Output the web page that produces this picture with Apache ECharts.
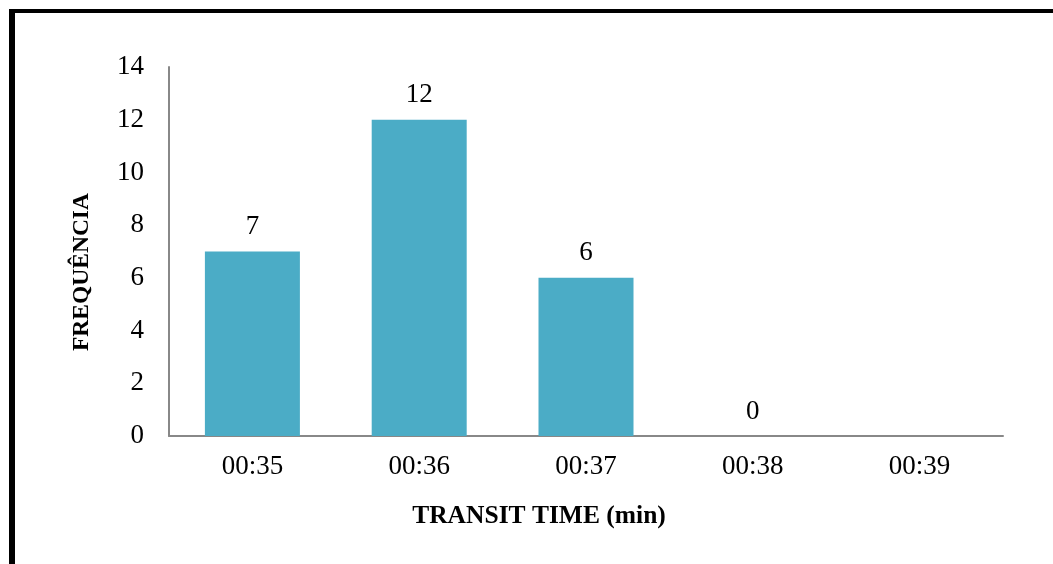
<!DOCTYPE html>
<html><head><meta charset="utf-8">
<script src="https://cdn.jsdelivr.net/npm/echarts@6/dist/echarts.min.js"></script>
<style>html,body{margin:0;padding:0;background:#fff}#c{width:1053px;height:564px}</style>
</head><body><div id="c"></div>
<script>
const categories = ["00:35","00:36","00:37","00:38","00:39"];
const frequencies = [7,12,6,0,null];
const yTicks = {min:0, max:14, interval:2};
const xTitle = 'TRANSIT TIME (min)';
const yTitle = 'FREQUÊNCIA';

const chart = echarts.init(document.getElementById('c'));
const font = "'Liberation Serif','DejaVu Serif',serif";
chart.setOption({
  animation:false,
  backgroundColor:'#fff',
  graphic:[
    {type:'rect', shape:{x:9,y:9,width:6,height:560}, style:{fill:'#000'}},
    {type:'rect', shape:{x:9,y:9,width:1060,height:4}, style:{fill:'#000'}},
    {type:'text', x:539, y:516, style:{text:xTitle, align:'center', verticalAlign:'middle',
      font:"bold 25.5px 'Liberation Serif', serif", fill:'#000'}},
    {type:'text', x:82, y:272, rotation:Math.PI/2, style:{text:yTitle, align:'center', verticalAlign:'middle',
      font:"bold 23.5px 'Liberation Serif', serif", fill:'#000'}}
  ],
  grid:{left:169,right:50,top:67,bottom:128},
  xAxis:{
    type:'category', data:categories,
    axisLine:{lineStyle:{color:'#888888',width:2}},
    axisTick:{show:false},
    axisLabel:{fontFamily:font,fontSize:27,color:'#000',margin:17}
  },
  yAxis:{
    type:'value', min:yTicks.min, max:yTicks.max, interval:yTicks.interval,
    axisLine:{show:true,lineStyle:{color:'#888888',width:2}},
    axisTick:{show:false},
    splitLine:{show:false},
    axisLabel:{fontFamily:font,fontSize:27,color:'#000',margin:25}
  },
  series:[{
    type:'bar', data:frequencies, barWidth:95,
    itemStyle:{color:'#4BACC6'},
    label:{show:true,position:'top',distance:11,fontFamily:font,fontSize:27,color:'#000'}
  }]
});
</script></body></html>
